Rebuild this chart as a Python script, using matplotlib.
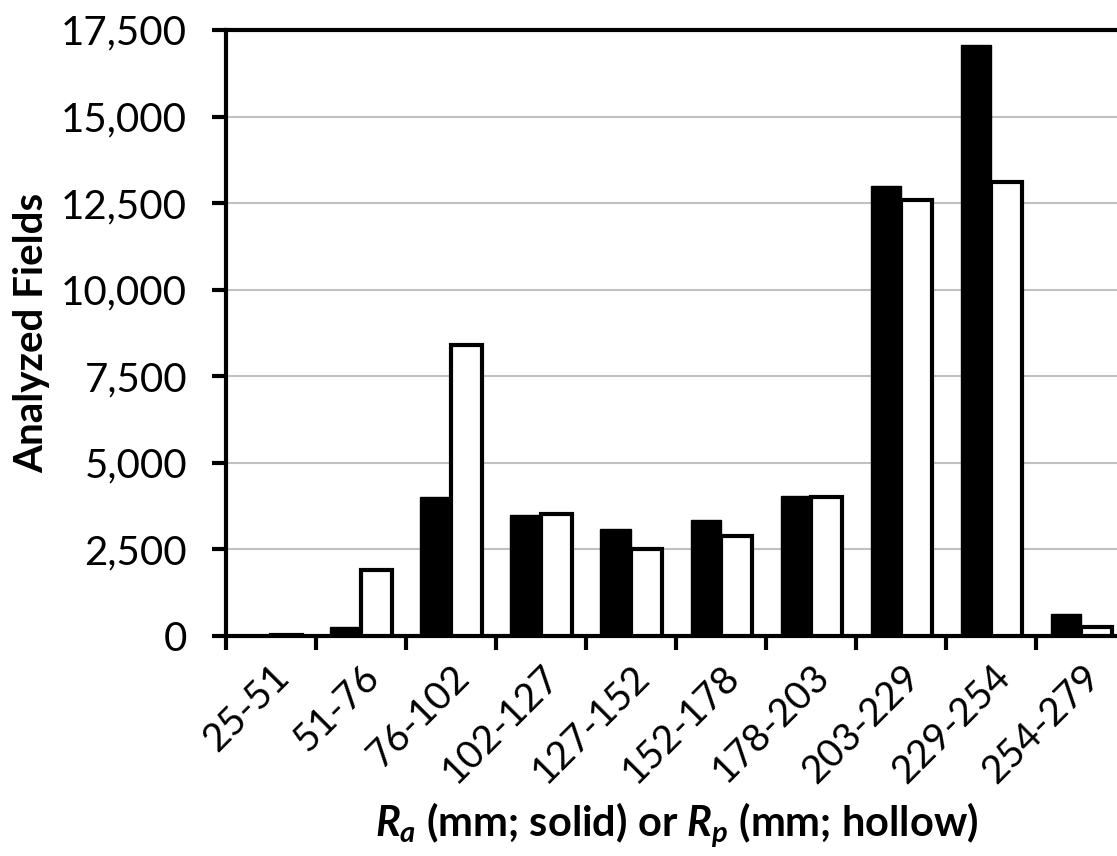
import matplotlib.pyplot as plt
import numpy as np
from matplotlib.ticker import FuncFormatter, MultipleLocator

plt.rcParams["font.family"] = ["Lato", "DejaVu Sans"]
plt.rcParams["mathtext.fontset"] = "custom"
plt.rcParams["mathtext.it"] = "Lato:italic:bold"
plt.rcParams["mathtext.rm"] = "Lato:bold"

ranges = ["25-51", "51-76", "76-102", "102-127", "127-152",
          "152-178", "178-203", "203-229", "229-254", "254-279"]
solid_counts = [10, 250, 4000, 3500, 3100, 3350, 4030, 13000, 17080, 640]
hollow_counts = [40, 1900, 8400, 3530, 2500, 2900, 4020, 12600, 13120, 250]


def main() -> None:
    fig = plt.figure(figsize=(11.17, 8.56), dpi=100)
    ax = fig.add_axes([0.2023, 0.257, 0.806, 0.708])

    x = np.arange(len(ranges))
    w = 0.34
    ax.bar(x - w / 2, solid_counts, w, color="black", edgecolor="black",
           linewidth=1, zorder=3)
    ax.bar(x + w / 2, hollow_counts, w, color="white", edgecolor="black",
           linewidth=3, zorder=3)

    ax.set_xlim(-0.5, len(ranges) - 0.5)
    ax.set_ylim(0, 17500)
    ax.yaxis.set_major_locator(MultipleLocator(2500))
    ax.yaxis.set_major_formatter(FuncFormatter(lambda v, _: f"{int(v):,}"))
    ax.grid(axis="y", color="#c0c0c0", linewidth=1.5, zorder=0)

    # ticks sit on category boundaries, labels on the centres
    ax.set_xticks(np.arange(len(ranges) + 1) - 0.5)
    ax.set_xticklabels([])
    ax.set_xticks(x, minor=True)
    ax.set_xticklabels(ranges, minor=True, rotation=45, ha="right",
                       rotation_mode="anchor", fontsize=28)
    ax.tick_params(axis="x", which="minor", length=0, pad=16)
    ax.tick_params(axis="x", which="major", length=10, width=3, direction="out")
    ax.tick_params(axis="y", length=10, width=3, direction="out", labelsize=29,
                   pad=18)

    for side in ("left", "bottom", "top"):
        ax.spines[side].set_linewidth(3)
    ax.spines["right"].set_visible(False)

    fig.text(0.028, 0.611, "Analyzed Fields", rotation=90, fontsize=29,
             fontweight="bold", ha="center", va="center")
    fig.text(0.606, 0.036, r"$R_a$ (mm; solid) or $R_p$ (mm; hollow)",
             fontsize=30, fontweight="bold", ha="center", va="center")

    fig.savefig("out.png", dpi=100)


if __name__ == "__main__":
    main()
